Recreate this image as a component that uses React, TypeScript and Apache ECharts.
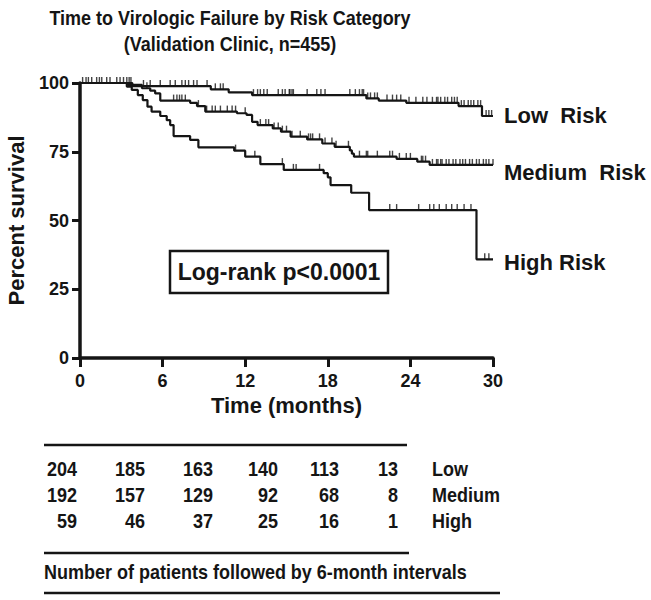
import React, { useEffect, useRef } from "react";
import * as echarts from "echarts";

// Kaplan-Meier step points [month, percent surviving]
const lowSteps: number[][] = [[0, 100], [3.8, 98.9], [9.5, 97.7], [10.8, 96.6], [12.5, 95.6], [20.8, 94.4], [21.7, 93.6], [23.7, 92.8], [27.5, 91.6], [29.2, 88.0], [30, 88.0]];
const mediumSteps: number[][] = [[0, 100], [3.5, 99.3], [4.5, 98.1], [5.1, 97.2], [5.46, 96.2], [5.83, 93.6], [8.0, 92.8], [8.5, 91.6], [9.1, 89.6], [11.4, 89.0], [12.1, 88.4], [12.5, 85.9], [12.9, 84.7], [14.0, 83.5], [14.6, 82.3], [15.3, 80.5], [16.5, 79.5], [17.6, 78.0], [18.5, 76.8], [19.6, 75.5], [19.75, 74.3], [19.9, 73.2], [23.0, 72.4], [24.5, 71.4], [25.4, 70.2], [30, 70.2]];
const highSteps: number[][] = [[0, 100], [3.4, 98.7], [3.76, 97.5], [4.2, 95.6], [4.56, 93.8], [4.9, 91.4], [5.2, 89.6], [5.83, 88.0], [6.3, 86.5], [6.55, 84.7], [6.8, 80.7], [8.0, 79.3], [8.6, 76.6], [11.2, 75.4], [12.0, 73.2], [13.1, 70.5], [14.8, 68.4], [17.7, 67.2], [18.0, 65.7], [18.2, 62.9], [19.7, 60.1], [21.0, 53.8], [28.8, 35.9], [30, 35.9]];

// Censoring times (months)
const lowCensored: number[] = [0.19, 0.44, 0.61, 0.85, 1.21, 1.41, 1.58, 1.94, 2.18, 2.67, 2.91, 3.16, 3.4, 3.57, 3.7, 4.61, 5.1, 5.83, 6.55, 6.92, 7.4, 7.65, 7.89, 8.25, 8.5, 9.23, 9.83, 10.2, 10.4, 12.6, 12.9, 13.1, 13.35, 13.6, 14.4, 14.7, 14.9, 15.2, 15.25, 15.4, 15.5, 16.5, 17.2, 17.5, 17.8, 19.6, 20.0, 20.3, 20.5, 20.6, 20.9, 21.1, 21.4, 21.6, 22.3, 22.7, 23.0, 23.3, 23.9, 24.4, 24.9, 25.2, 25.6, 25.9, 26.0, 26.2, 26.5, 26.7, 27.0, 27.2, 27.4, 27.7, 27.9, 28.2, 28.4, 28.6, 28.9, 29.1, 29.5, 29.7, 29.9];
const mediumCensored: number[] = [4.86, 6.8, 7.04, 7.23, 7.4, 7.65, 8.6, 9.2, 9.6, 9.83, 10.2, 10.7, 11.05, 11.3, 12.0, 13.1, 13.5, 13.7, 14.1, 14.4, 14.7, 15.0, 15.4, 16.0, 16.6, 16.75, 16.9, 17.4, 17.8, 18.3, 18.6, 19.5, 20.3, 20.8, 20.9, 21.6, 22.5, 22.7, 23.2, 23.7, 24.0, 24.8, 24.9, 25.1, 25.6, 25.9, 26.0, 26.2, 26.3, 26.6, 26.8, 27.1, 27.3, 27.6, 27.8, 28.0, 28.3, 28.5, 28.8, 29.0, 29.3, 29.5, 29.7, 30.0];
const highCensored: number[] = [11.3, 12.7, 14.7, 15.5, 15.7, 17.4, 22.5, 23.0, 24.6, 25.4, 25.7, 26.1, 26.6, 27.0, 27.4, 27.9, 28.4, 29.4, 29.7];

// At-risk table
const tableRows: string[] = ["Low", "Medium", "High"];
const atRiskLow: number[] = [204, 185, 163, 140, 113, 13];
const atRiskMedium: number[] = [192, 157, 129, 92, 68, 8];
const atRiskHigh: number[] = [59, 46, 37, 25, 16, 1];
const xTicks: number[] = [0, 6, 12, 18, 24, 30];
const yTicks: number[] = [0, 25, 50, 75, 100];

const curveLabels: string[] = ["Low  Risk", "Medium  Risk", "High Risk"];

const INK = "#151515";
const FONT = '"Liberation Sans", Arial, Helvetica, sans-serif';

function survivalAt(steps: number[][], t: number): number {
  let v = steps[0][1];
  for (const [st, sv] of steps) {
    if (st <= t) v = sv;
    else break;
  }
  return v;
}

export default function App() {
  const ref = useRef<HTMLDivElement>(null);

  useEffect(() => {
    document.body.style.margin = "0";
    if (!ref.current) return;
    const chart = echarts.init(ref.current, undefined, { renderer: "svg" });

    const stepSeries = (name: string, steps: number[][]) => ({
      name,
      type: "line",
      step: "end",
      data: steps,
      symbol: "none",
      lineStyle: { color: INK, width: 2.2 },
      z: 3,
    });
    const censorSeries = (name: string, steps: number[][], times: number[]) => ({
      name: name + " censored",
      type: "scatter",
      data: times.map((t) => [t, survivalAt(steps, t)]),
      symbol: "rect",
      symbolSize: [1.4, 6],
      symbolOffset: [0, -3],
      itemStyle: { color: INK },
      z: 4,
    });

    const narrowText = (text: string, x: number, y: number, align: string) => ({
      type: "text",
      x,
      y,
      scaleX: 0.9,
      style: { text, fontFamily: FONT, fontWeight: "bold", fontSize: 20, fill: INK, align, verticalAlign: "middle" },
    });

    const colRight = [77, 145, 213, 278, 339, 398];
    const rowY = [469, 495, 521];
    const tableData = [atRiskLow, atRiskMedium, atRiskHigh];
    const tableText: any[] = [];
    tableData.forEach((row, ri) => {
      row.forEach((v, ci) => {
        tableText.push(narrowText(String(v), colRight[ci], rowY[ri], "right"));
      });
      tableText.push(narrowText(tableRows[ri], 432, rowY[ri], "left"));
    });

    const hline = (x1: number, x2: number, y: number) => ({
      type: "line",
      shape: { x1, y1: y, x2, y2: y },
      style: { stroke: INK, lineWidth: 2.5 },
    });

    const labelYs = [115, 172, 262];

    chart.setOption({
      animation: false,
      backgroundColor: "#ffffff",
      grid: { left: 80, top: 83, right: 158, bottom: 242, containLabel: false, outerBoundsMode: "none" },
      xAxis: {
        type: "value",
        min: 0,
        max: 30,
        interval: 6,
        name: "Time (months)",
        nameLocation: "middle",
        nameGap: 36,
        nameTextStyle: { fontFamily: FONT, fontWeight: "bold", fontSize: 22, color: INK },
        axisLine: { show: true, onZero: false, lineStyle: { color: INK, width: 3.5 } },
        axisTick: { show: true, length: 9, lineStyle: { color: INK, width: 3 } },
        axisLabel: { fontFamily: FONT, fontWeight: "bold", fontSize: 18, color: INK, margin: 14, formatter: (v: number) => (xTicks.includes(v) ? String(v) : "") },
        splitLine: { show: false },
      },
      yAxis: {
        type: "value",
        min: 0,
        max: 100,
        interval: 25,
        name: "Percent survival",
        nameLocation: "middle",
        nameGap: 53,
        nameRotate: 90,
        nameTextStyle: { fontFamily: FONT, fontWeight: "bold", fontSize: 22, color: INK },
        axisLine: { show: true, lineStyle: { color: INK, width: 3.5 } },
        axisTick: { show: true, length: 8, lineStyle: { color: INK, width: 3 } },
        axisLabel: { fontFamily: FONT, fontWeight: "bold", fontSize: 18, color: INK, margin: 11, formatter: (v: number) => (yTicks.includes(v) ? String(v) : "") },
        splitLine: { show: false },
      },
      series: [
        stepSeries("Low Risk", lowSteps),
        stepSeries("Medium Risk", mediumSteps),
        stepSeries("High Risk", highSteps),
        censorSeries("Low Risk", lowSteps, lowCensored),
        censorSeries("Medium Risk", mediumSteps, mediumCensored),
        censorSeries("High Risk", highSteps, highCensored),
      ],
      graphic: [
        narrowText("Time to Virologic Failure by Risk Category", 230, 18, "center"),
        narrowText("(Validation Clinic, n=455)", 230, 44, "center"),
        ...curveLabels.map((t, i) => ({
          type: "text",
          x: 504,
          y: labelYs[i],
          style: { text: t, fontFamily: FONT, fontWeight: "bold", fontSize: 22, fill: INK, align: "left", verticalAlign: "middle" },
        })),
        {
          type: "rect",
          shape: { x: 170, y: 251, width: 218, height: 42 },
          style: { fill: "none", stroke: INK, lineWidth: 2.5 },
        },
        {
          type: "text",
          x: 279,
          y: 272,
          style: { text: "Log-rank p<0.0001", fontFamily: FONT, fontWeight: "bold", fontSize: 23, fill: INK, align: "center", verticalAlign: "middle" },
        },
        hline(44, 407, 445),
        ...tableText,
        hline(44, 409, 553),
        narrowText("Number of patients followed by 6-month intervals", 44, 572, "left"),
        hline(44, 500, 593),
      ],
    });

    return () => chart.dispose();
  }, []);

  return <div ref={ref} style={{ width: 651, height: 600 }} />;
}
